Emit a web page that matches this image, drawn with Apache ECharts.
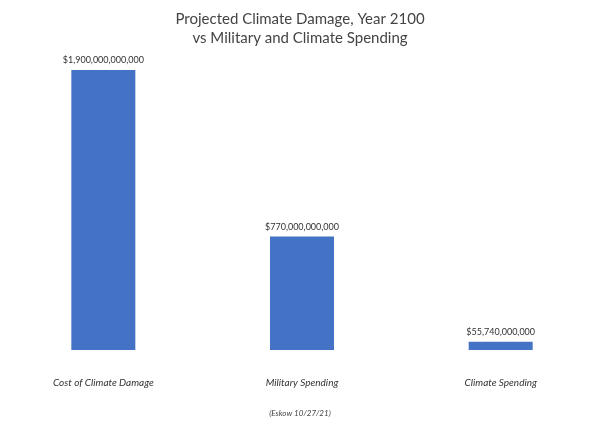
<!DOCTYPE html>
<html><head><meta charset="utf-8">
<script src="https://cdn.jsdelivr.net/npm/echarts@6/dist/echarts.min.js"></script>
<style>html,body{margin:0;padding:0;background:#fff}#c{width:600px;height:421px}</style>
</head><body><div id="c"></div>
<script>
const categories = ["Cost of Climate Damage", "Military Spending", "Climate Spending"];
const values = [1900000000000, 770000000000, 55740000000];
const chart = echarts.init(document.getElementById('c'));
const fmt = v => '$' + v.toLocaleString('en-US');
chart.setOption({
  animation: false,
  title: [{
    text: 'Projected Climate Damage, Year 2100\nvs Military and Climate Spending',
    left: 'center', top: 5,
    textStyle: {fontFamily: 'Lato', fontWeight: 'normal', fontSize: 15, color: '#444', lineHeight: 19}
  }, {
    text: '(Eskow 10/27/21)', left: 'center', top: 404,
    textStyle: {fontFamily: 'Lato', fontStyle: 'italic', fontWeight: 'normal', fontSize: 8, color: '#444'}
  }],
  grid: {left: 4, width: 603, top: 70, bottom: 71},
  xAxis: {type: 'category', data: categories,
    axisLine: {show: false}, axisTick: {show: false},
    axisLabel: {margin: 28, fontFamily: 'Lato', fontStyle: 'italic', fontSize: 10, color: '#333'}},
  yAxis: {type: 'value', min: 0, max: 1900000000000, show: false, splitLine: {show: false}},
  series: [{type: 'bar', data: values, barWidth: 64,
    itemStyle: {color: '#4472c4'},
    label: {show: true, position: 'top', distance: 5, formatter: p => fmt(p.value),
      fontFamily: 'Lato', fontSize: 9, color: '#333'}}]
});
</script></body></html>
